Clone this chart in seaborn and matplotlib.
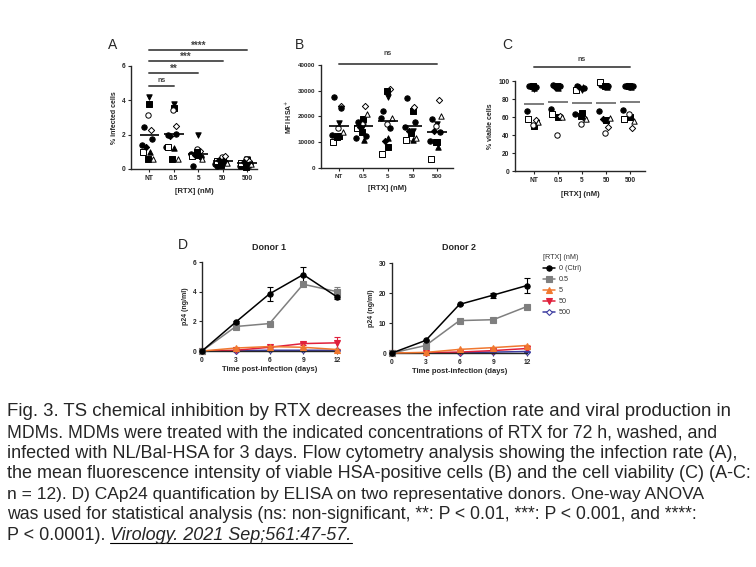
import numpy as np
import pandas as pd
import seaborn as sns
import matplotlib.pyplot as plt

# ---- datos ----
conditions = ["NT", "0.5", "5", "50", "500"]

# A) % infected cells, 12 donantes por condicion
infected = [
    [4.2, 3.8, 3.15, 2.45, 2.25, 1.75, 1.4, 1.0, 1.0, 0.6, 0.6, 1.3],
    [3.8, 3.55, 3.45, 2.0, 2.5, 2.05, 1.3, 1.2, 1.3, 0.6, 0.6, 1.9],
    [2.0, 0.8, 1.15, 0.2, 1.05, 0.7, 0.9, 0.85, 0.75, 1.0, 0.6, 0.8],
    [0.6, 0.5, 0.7, 0.2, 0.75, 0.4, 0.3, 0.55, 0.45, 0.25, 0.35, 0.5],
    [0.6, 0.55, 0.6, 0.15, 0.45, 0.3, 0.2, 0.25, 0.35, 0.1, 0.3, 0.4],
]

# B) MFI HSA+
mfi = [
    [17500, 12500, 15500, 27500, 24200, 23200, 13000, 12500, 10000, 12000, 14000, 12500],
    [16500, 19000, 17000, 18000, 24000, 12500, 11500, 11000, 15500, 14000, 21000, 16000],
    [27500, 8000, 17000, 22000, 30500, 15500, 19500, 11500, 5500, 30000, 19500, 10500],
    [14500, 22000, 11500, 27000, 23500, 18000, 16000, 11000, 11000, 13500, 11500, 14500],
    [17000, 10000, 16500, 19000, 26500, 14000, 10500, 8000, 3500, 10000, 20000, 14500],
]

# C) % viable cells
viable = [
    [91, 50, 51, 95, 57, 93, 67, 92, 58, 94, 54, 94],
    [93, 60, 40, 96, 61, 95, 69, 92, 63, 94, 60, 93],
    [90, 64, 52, 94, 59, 92, 63, 93, 90, 61, 58, 93],
    [94, 57, 42, 96, 49, 95, 67, 93, 99, 94, 59, 58],
    [93, 60, 63, 95, 48, 94, 68, 93, 58, 94, 56, 94],
]

# D) p24 (ng/ml) por dia
days = [0, 3, 6, 9, 12]
doses = ["0 (Ctrl)", "0.5", "5", "50", "500"]
donor1_mean = [
    [0, 1.95, 3.85, 5.15, 3.65],
    [0, 1.65, 1.85, 4.5, 4.0],
    [0, 0.2, 0.3, 0.25, 0.1],
    [0, 0.05, 0.25, 0.5, 0.55],
    [0, 0.02, 0.05, 0.05, 0.05],
]
donor1_err = [
    [0, 0.05, 0.45, 0.5, 0.15],
    [0, 0.05, 0.05, 0.15, 0.3],
    [0, 0.05, 0.05, 0.05, 0.05],
    [0, 0.02, 0.05, 0.1, 0.4],
    [0, 0.01, 0.02, 0.02, 0.02],
]
donor2_mean = [
    [0, 4.2, 16.2, 19.3, 22.5],
    [0, 2.5, 10.8, 11.1, 15.5],
    [0, 0.2, 1.2, 1.8, 2.5],
    [0, 0.1, 0.3, 0.8, 1.5],
    [0, 0.05, 0.1, 0.3, 0.5],
]
donor2_err = [
    [0, 0.2, 0.3, 0.8, 2.5],
    [0, 0.2, 0.3, 0.3, 0.3],
    [0, 0.1, 0.2, 0.3, 0.3],
    [0, 0.05, 0.1, 0.2, 0.3],
    [0, 0.02, 0.05, 0.1, 0.1],
]

# ---- estilo ----
sns.set_style("ticks")
plt.rcParams["font.family"] = ["Liberation Sans", "DejaVu Sans"]

W, H = 756, 567
fig = plt.figure(figsize=(W / 100, H / 100), dpi=100)


def caja(l, t, r, b):
    return [l / W, 1 - b / H, (r - l) / W, (b - t) / H]


donor_markers = [("v", True), ("s", True), ("o", False), ("o", True), ("D", False),
                 ("o", True), ("o", True), ("^", True), ("s", False), ("s", True),
                 ("^", False), ("D", True)]
offsets = [0.0, 0.0, -0.05, -0.22, 0.08, 0.1, -0.3, 0.02, -0.25, -0.06, 0.16, -0.14]


def estilo_ejes(ax, fs=4.8):
    sns.despine(ax=ax)
    for s in ["left", "bottom"]:
        ax.spines[s].set_linewidth(1.0)
    ax.tick_params(length=2.5, width=0.8, labelsize=fs, pad=1.5)
    for lab in ax.get_xticklabels() + ax.get_yticklabels():
        lab.set_fontweight("bold")


def panel_puntos(ax, valores, mean_color="black"):
    df = pd.DataFrame(valores, index=range(len(conditions))).T
    for j, (m, lleno) in enumerate(donor_markers):
        xs = np.arange(len(conditions)) + offsets[j]
        ys = df.iloc[j].values
        sns.scatterplot(x=xs, y=ys, ax=ax, marker=m, s=15 if m != "D" else 10,
                        color="black" if lleno else "white", edgecolor="black",
                        linewidth=0.7, clip_on=False, zorder=3, legend=False)
    medias = df.mean(axis=0).values
    ax.hlines(medias, np.arange(len(conditions)) - 0.4, np.arange(len(conditions)) + 0.4,
              color=mean_color, lw=1.2, zorder=4)
    ax.set_xticks(range(len(conditions)))
    ax.set_xticklabels(conditions)


def barra_sig(ax, x0, x1, y, texto, dy, fs=5):
    ax.plot([x0, x1], [y, y], color="#555555", lw=1.4, clip_on=False)
    ax.text((x0 + x1) / 2, y + dy, texto, ha="center", va="bottom", fontsize=fs,
            color="#444444", fontweight="bold", clip_on=False)


# ---- Panel A ----
axA = fig.add_axes(caja(131, 66, 257, 169))
panel_puntos(axA, infected)
axA.set_xlim(-0.75, 4.4)
axA.set_ylim(0, 6)
axA.set_yticks([0, 2, 4, 6])
axA.set_ylabel("% infected cells", fontsize=5, fontweight="bold", labelpad=3)
axA.set_xlabel("[RTX] (nM)", fontsize=5.5, fontweight="bold", labelpad=5)
estilo_ejes(axA)
barra_sig(axA, 0, 1, 4.83, "ns", 0.1)
barra_sig(axA, 0, 2, 5.59, "**", -0.05, fs=7)
barra_sig(axA, 0, 3, 6.29, "***", -0.05, fs=7)
barra_sig(axA, 0, 4, 6.93, "****", -0.05, fs=7)
fig.text(113 / W, 1 - 45 / H, "A", fontsize=10, ha="center", va="center")

# ---- Panel B ----
axB = fig.add_axes(caja(321, 65, 453, 168))
panel_puntos(axB, mfi)
axB.set_xlim(-0.73, 4.65)
axB.set_ylim(0, 40000)
axB.set_yticks([0, 10000, 20000, 30000, 40000])
axB.set_ylabel("MFI HSA$^{+}$", fontsize=5, fontweight="bold", labelpad=3)
axB.set_xlabel("[RTX] (nM)", fontsize=5.5, fontweight="bold", labelpad=5)
estilo_ejes(axB, fs=4.5)
barra_sig(axB, 0, 4, 40500, "ns", 2500)
fig.text(300 / W, 1 - 45 / H, "B", fontsize=10, ha="center", va="center")

# ---- Panel C ----
axC = fig.add_axes(caja(515, 81, 645, 171))
panel_puntos(axC, viable, mean_color="#666666")
axC.set_xlim(-0.79, 4.62)
axC.set_ylim(0, 100)
axC.set_yticks([0, 20, 40, 60, 80, 100])
axC.set_ylabel("% viable cells", fontsize=5, fontweight="bold", labelpad=3)
axC.set_xlabel("[RTX] (nM)", fontsize=5.5, fontweight="bold", labelpad=5)
estilo_ejes(axC)
barra_sig(axC, 0, 4, 115.5, "ns", 5)
fig.text(507 / W, 1 - 45 / H, "C", fontsize=10, ha="center", va="center")

# ---- Panel D ----
colores = ["black", "#7f7f7f", "#f07830", "#e0203c", "#3c3ca0"]
marcas = ["o", "s", "^", "v", "D"]
rellenos = ["black", "#7f7f7f", "#f07830", "#e0203c", "white"]


def panel_linea(ax, medias, errores, titulo, ymax, yticks):
    for k, dosis in enumerate(doses):
        sns.lineplot(x=days, y=medias[k], ax=ax, color=colores[k], marker=marcas[k],
                     markersize=3.8 if marcas[k] != "D" else 3, markerfacecolor=rellenos[k],
                     markeredgecolor=colores[k], markeredgewidth=0.8, lw=1.1,
                     label=dosis, clip_on=False, zorder=5 - k)
        ax.errorbar(days, medias[k], yerr=errores[k], fmt="none", ecolor=colores[k],
                    elinewidth=0.8, capsize=2, capthick=0.8, clip_on=False)
    ax.set_xlim(0, 12)
    ax.set_ylim(0, ymax)
    ax.set_xticks(days)
    ax.set_yticks(yticks)
    ax.set_title(titulo, fontsize=6.5, fontweight="bold", pad=9)
    ax.set_xlabel("Time post-infection (days)", fontsize=5.5, fontweight="bold", labelpad=2)
    ax.set_ylabel("p24 (ng/ml)", fontsize=5, fontweight="bold", labelpad=3)
    estilo_ejes(ax)


axD1 = fig.add_axes(caja(202, 262, 337, 351))
panel_linea(axD1, donor1_mean, donor1_err, "Donor 1", 6, [0, 2, 4, 6])
axD1.get_legend().remove()
fig.text(183 / W, 1 - 245 / H, "D", fontsize=10, ha="center", va="center")

axD2 = fig.add_axes(caja(392, 263, 527, 353))
panel_linea(axD2, donor2_mean, donor2_err, "Donor 2", 30, [0, 10, 20, 30])
leg = axD2.legend(loc="upper left", bbox_to_anchor=(543 / W, 1 - 254 / H),
                  bbox_transform=fig.transFigure, frameon=False, title="[RTX] (nM)",
                  fontsize=5.2, title_fontsize=5.2, handlelength=1.6, handletextpad=0.6,
                  labelspacing=0.55, alignment="left", borderaxespad=0, borderpad=0)
for t in leg.get_texts():
    t.set_color("#333333")
leg.get_title().set_color("#333333")

# ---- Leyenda de la figura (texto) ----
lineas = [
    "Fig. 3. TS chemical inhibition by RTX decreases the infection rate and viral production in",
    "MDMs. MDMs were treated with the indicated concentrations of RTX for 72 h, washed, and",
    "infected with NL/Bal-HSA for 3 days. Flow cytometry analysis showing the infection rate (A),",
    "the mean fluorescence intensity of viable HSA-positive cells (B) and the cell viability (C) (A-C:",
    "n = 12). D) CAp24 quantification by ELISA on two representative donors. One-way ANOVA",
    "was used for statistical analysis (ns: non-significant, **: P < 0.01, ***: P < 0.001, and ****:",
]
# extremo derecho (px) de cada linea en la referencia
fin_linea = [735, 713, 738, 748, 702, 695]
x_ini = 7
y0 = 412
paso = 20.5
fig.canvas.draw()
for i, txt in enumerate(lineas):
    t = fig.text(x_ini / W, 1 - (y0 + i * paso) / H, txt, fontsize=13, va="center", ha="left")
    ancho = t.get_window_extent(renderer=fig.canvas.get_renderer()).width
    t.set_fontsize(13 * (fin_linea[i] - x_ini) / ancho)

yl = 1 - (y0 + 6 * paso) / H
t1 = fig.text(x_ini / W, yl, "P < 0.0001). ", fontsize=13, va="center", ha="left")
fig.canvas.draw()
bb = t1.get_window_extent()
t2 = fig.text(bb.x1 / W, yl, "Virology. 2021 Sep;561:47-57.", fontsize=13,
              style="italic", va="center", ha="left")
fig.canvas.draw()
bb2 = t2.get_window_extent()
yu = bb2.y0 / H + 0.0005
fig.add_artist(plt.Line2D([bb2.x0 / W, bb2.x1 / W], [yu, yu], color="black", lw=0.8))

fig.savefig("out.png", dpi=100)
